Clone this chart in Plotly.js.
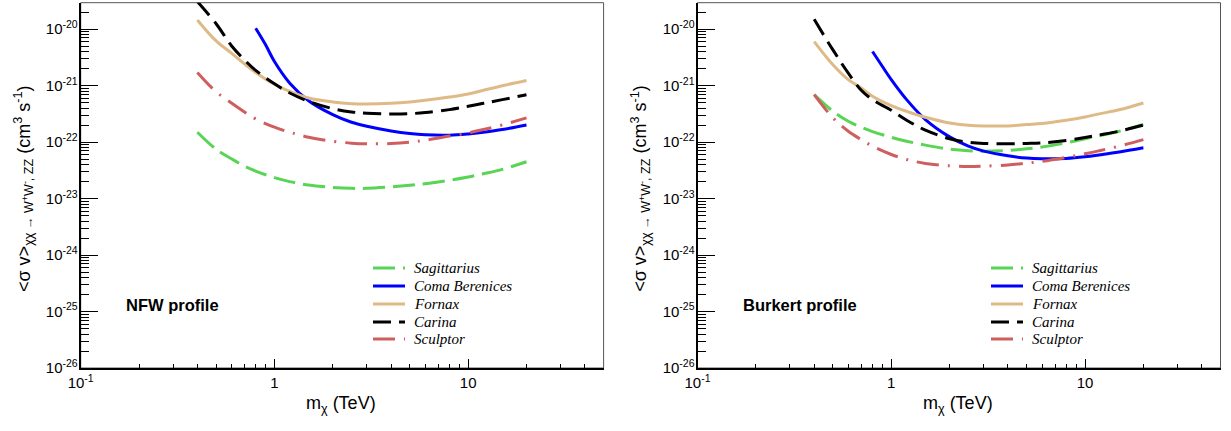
<!DOCTYPE html>
<html>
<head>
<meta charset="utf-8">
<script src="https://cdn.plot.ly/plotly-3.0.1.min.js"></script>
<style>html,body{margin:0;padding:0;background:#fff;}#chart{width:1231px;height:431px;}</style>
</head>
<body>
<div id="chart"></div>
<script>
// ---------------- data ----------------
const seriesNames = ["Sagittarius", "Coma Berenices", "Fornax", "Carina", "Sculptor"];

const massGrid = [0.4, 0.5, 0.6, 0.7, 0.8, 1, 1.2, 1.5, 2, 2.5, 3, 4, 5, 6, 8, 10, 12, 15, 20];
const massComa = [0.8, 0.9, 1, 1.2, 1.5, 2, 2.5, 3, 4, 5, 6, 8, 10, 12, 15, 20];

// NFW profile (left panel)
const nfwSagittarius = [1.5e-22, 7.5e-23, 5.08e-23, 3.77e-23, 3.08e-23, 2.35e-23, 2.0e-23, 1.74e-23, 1.58e-23, 1.52e-23, 1.52e-23, 1.61e-23, 1.72e-23, 1.84e-23, 2.11e-23, 2.41e-23, 2.76e-23, 3.3e-23, 4.5e-23];
const nfwComa        = [1.04e-20, 5.3e-21, 2.68e-21, 1.11e-21, 5.43e-22, 3.08e-22, 2.25e-22, 1.91e-22, 1.58e-22, 1.42e-22, 1.35e-22, 1.33e-22, 1.4e-22, 1.5e-22, 1.67e-22, 2.02e-22];
const nfwFornax      = [1.46e-20, 6.2e-21, 3.77e-21, 2.44e-21, 1.72e-21, 1.06e-21, 7.9e-22, 6.05e-22, 5.15e-22, 4.81e-22, 4.74e-22, 4.88e-22, 5.15e-22, 5.51e-22, 6.3e-22, 7.13e-22, 8.28e-22, 1.0e-21, 1.24e-21];
const nfwCarina      = [3.1e-20, 1.25e-20, 5.1e-21, 2.87e-21, 1.87e-21, 1.08e-21, 7.43e-22, 5.3e-22, 3.93e-22, 3.43e-22, 3.25e-22, 3.16e-22, 3.2e-22, 3.34e-22, 3.77e-22, 4.31e-22, 4.88e-22, 5.66e-22, 6.93e-22];
const nfwSculptor    = [1.72e-21, 7.8e-22, 4.94e-22, 3.43e-22, 2.58e-22, 1.84e-22, 1.5e-22, 1.22e-22, 1.04e-22, 9.6e-23, 9.35e-23, 9.47e-23, 1.0e-22, 1.08e-22, 1.28e-22, 1.46e-22, 1.67e-22, 2.02e-22, 2.69e-22];

// Burkert profile (right panel)
const burSagittarius = [6.93e-22, 3.52e-22, 2.35e-22, 1.84e-22, 1.54e-22, 1.22e-22, 1.04e-22, 8.86e-23, 7.52e-23, 7.03e-23, 6.93e-23, 7.13e-23, 7.62e-23, 8.17e-23, 9.73e-23, 1.15e-22, 1.31e-22, 1.56e-22, 2.05e-22];
const burComa        = [4.04e-21, 2.19e-21, 1.28e-21, 5.66e-22, 2.51e-22, 1.24e-22, 8.5e-23, 6.93e-23, 5.74e-23, 5.22e-23, 5.08e-23, 5.15e-23, 5.5e-23, 5.97e-23, 6.67e-23, 7.94e-23];
const burFornax      = [6.05e-21, 2.35e-21, 1.28e-21, 9.1e-22, 6.5e-22, 4.43e-22, 3.52e-22, 2.76e-22, 2.19e-22, 2.0e-22, 1.94e-22, 1.94e-22, 2.05e-22, 2.14e-22, 2.45e-22, 2.8e-22, 3.2e-22, 3.75e-22, 4.94e-22];
const burCarina      = [1.5e-20, 4.3e-21, 1.67e-21, 8.3e-22, 5.66e-22, 3.67e-22, 2.45e-22, 1.63e-22, 1.15e-22, 1.0e-22, 9.5e-23, 9.35e-23, 9.5e-23, 9.7e-23, 1.07e-22, 1.21e-22, 1.35e-22, 1.56e-22, 2.0e-22];
const burSculptor    = [6.93e-22, 2.69e-22, 1.56e-22, 1.11e-22, 8.5e-23, 6.05e-23, 4.94e-23, 4.2e-23, 3.82e-23, 3.72e-23, 3.77e-23, 3.93e-23, 4.26e-23, 4.56e-23, 5.36e-23, 6.22e-23, 7.13e-23, 8.5e-23, 1.11e-22];

const xTickVals = [0.1, 1, 10];
const xTickText = ["10<sup>-1</sup>", "1", "10"];
const yTickVals = [1e-26, 1e-25, 1e-24, 1e-23, 1e-22, 1e-21, 1e-20];
const yTickText = ["10<sup>-26</sup>", "10<sup>-25</sup>", "10<sup>-24</sup>", "10<sup>-23</sup>", "10<sup>-22</sup>", "10<sup>-21</sup>", "10<sup>-20</sup>"];

// ---------------- styles ----------------
const W = 1231, H = 431;
const styles = {
  "Sagittarius":    {color: "#59d454", dash: "22px,8px"},
  "Coma Berenices": {color: "#0000ff", dash: "solid"},
  "Fornax":         {color: "#deba87", dash: "solid"},
  "Carina":         {color: "#000000", dash: "18px,8px"},
  "Sculptor":       {color: "#cf5e5e", dash: "22px,9px,2px,9px"}
};

const panels = [
  {xa: "x", ya: "y", label: "NFW profile",
   data: [[massGrid, nfwSagittarius], [massComa, nfwComa], [massGrid, nfwFornax], [massGrid, nfwCarina], [massGrid, nfwSculptor]],
   left: 80.7, right: 603.6},
  {xa: "x2", ya: "y2", label: "Burkert profile",
   data: [[massGrid, burSagittarius], [massComa, burComa], [massGrid, burFornax], [massGrid, burCarina], [massGrid, burSculptor]],
   left: 697.5, right: 1220.5}
];
const plotTop = 2.7, plotBottom = 368;

const traces = [];
panels.forEach(p => {
  seriesNames.forEach((name, i) => {
    const st = styles[name];
    traces.push({
      type: "scatter", mode: "lines", name: name, showlegend: false,
      x: p.data[i][0], y: p.data[i][1], xaxis: p.xa, yaxis: p.ya,
      line: {color: st.color, width: 3, dash: st.dash, shape: "spline", smoothing: 1}
    });
  });
});

function minorLog(lo, hi, maxVal) {
  const v = [];
  for (let e = lo; e <= hi; e++) for (let d = 2; d <= 9; d++) { const val = d * Math.pow(10, e); if (val <= maxVal) v.push(val); }
  return v;
}
const font = "Liberation Sans, Arial, Helvetica, sans-serif";
function xAxis(p, anchor) {
  return {
    type: "log", range: [-1, Math.log10(50)], domain: [p.left / W, p.right / W], anchor: anchor,
    showline: true, linecolor: "#000", linewidth: 2, mirror: false,
    ticks: "inside", ticklen: 9, tickwidth: 1, tickcolor: "#000",
    tickmode: "array", tickvals: xTickVals, ticktext: xTickText,
    minor: {ticks: "inside", ticklen: 4.5, tickwidth: 1, tickcolor: "#000", tickmode: "array", tickvals: minorLog(-1, 1, 49), showgrid: false},
    tickfont: {family: font, size: 15, color: "#000"},
    showgrid: false, zeroline: false, fixedrange: true
  };
}
function yAxis(anchor) {
  return {
    type: "log", range: [-26, -19.53], domain: [1 - plotBottom / H, 1 - plotTop / H], anchor: anchor,
    showline: true, linecolor: "#000", linewidth: 2, mirror: false,
    ticks: "inside", ticklen: 17, tickwidth: 1, tickcolor: "#000",
    tickmode: "array", tickvals: yTickVals, ticktext: yTickText, ticklabelstandoff: -2,
    minor: {ticks: "inside", ticklen: 8, tickwidth: 1, tickcolor: "#000", tickmode: "array", tickvals: minorLog(-26, -20, 2.9e-20), showgrid: false},
    tickfont: {family: font, size: 15, color: "#000"},
    showgrid: false, zeroline: false, fixedrange: true
  };
}

const shapes = [], annotations = [];
const legendRowY = [268, 286, 304, 322, 339];
panels.forEach((p, k) => {
  shapes.push({type: "rect", xref: "paper", yref: "paper", x0: p.left / W, x1: p.right / W, y0: 1 - plotBottom / H, y1: 1 - plotTop / H,
    line: {color: "#555", width: 1}, layer: "below"});
  const off = p.left - 80.7;
  annotations.push({xref: "paper", yref: "paper", x: (341 + off) / W, y: 1 - 404 / H, xanchor: "center", yanchor: "middle", showarrow: false,
    text: "m<sub>χ</sub> (TeV)", font: {family: font, size: 18, color: "#000"}});
  annotations.push({xref: "paper", yref: "paper", x: (23 + off) / W, y: 1 - 189 / H, xanchor: "center", yanchor: "middle", showarrow: false, textangle: -90,
    text: "&lt;σ v&gt;<sub>χχ → W<sup>+</sup>W<sup>-</sup>, ZZ</sub> (cm<sup>3</sup> s<sup>-1</sup>)", font: {family: font, size: 18, color: "#000"}});
  annotations.push({xref: "paper", yref: "paper", x: (124 + off) / W, y: 1 - 305 / H, xanchor: "left", yanchor: "middle", showarrow: false,
    text: "<b>" + p.label + "</b>", font: {family: font, size: 16.5, color: "#000"}});
  const lx0 = 373 + off + (k === 1 ? 1.2 : 0);
  seriesNames.forEach((name, i) => {
    const st = styles[name];
    const yy = 1 - legendRowY[i] / H;
    shapes.push({type: "line", xref: "paper", yref: "paper", x0: lx0 / W, x1: (lx0 + 32) / W, y0: yy, y1: yy,
      line: {color: st.color, width: 3, dash: st.dash}});
    annotations.push({xref: "paper", yref: "paper", x: (lx0 + 39) / W, y: yy, xanchor: "left", yanchor: "middle", showarrow: false,
      text: "<i>" + name + "</i>", font: {family: "Liberation Serif, Times New Roman, serif", size: 15, color: "#000"}});
  });
});

const layout = {
  width: W, height: H, margin: {l: 0, r: 0, t: 0, b: 0},
  paper_bgcolor: "#fff", plot_bgcolor: "#fff", showlegend: false,
  xaxis: xAxis(panels[0], "y"), yaxis: yAxis("x"),
  xaxis2: xAxis(panels[1], "y2"), yaxis2: yAxis("x2"),
  shapes: shapes, annotations: annotations
};

Plotly.newPlot("chart", traces, layout, {staticPlot: true, displayModeBar: false});
</script>
</body>
</html>
